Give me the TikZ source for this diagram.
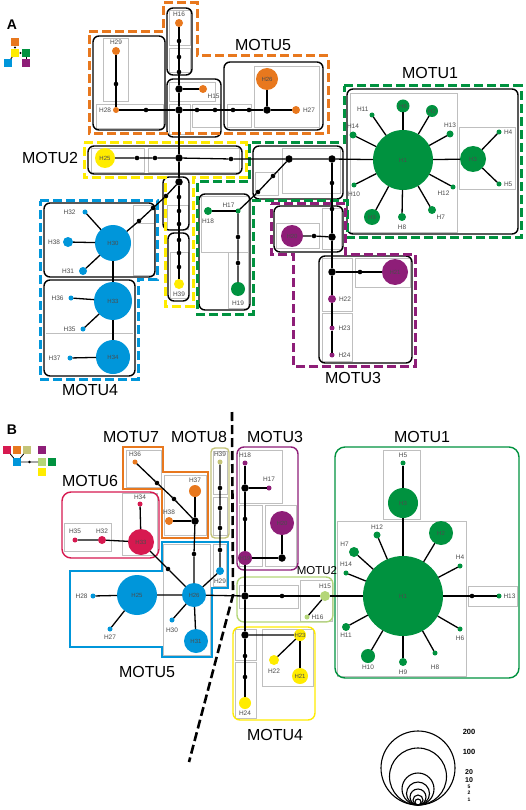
\documentclass[tikz,border=0pt]{standalone}
\usepackage{fontspec}
\setmainfont{Liberation Sans}
\usetikzlibrary{positioning}

\definecolor{motuorange}{RGB}{232,120,30}
\definecolor{motuyellow}{RGB}{255,236,0}
\definecolor{motugreen}{RGB}{0,146,63}
\definecolor{motublue}{RGB}{0,150,218}
\definecolor{motupurple}{RGB}{142,30,120}
\definecolor{motured}{RGB}{215,25,80}
\definecolor{motutan}{RGB}{196,196,120}
\definecolor{motulime}{RGB}{180,214,120}

\begin{document}
\begin{tikzpicture}[
    x=1pt, y=-1pt,
    every node/.style={inner sep=0pt, outer sep=0pt},
    hap/.style 2 args={circle, fill=#1, minimum size=#2pt, font=\fontsize{6}{6}\selectfont, text=black!70},
    jn/.style={circle, fill=black, minimum size=7.5pt},
    dt/.style={circle, fill=black, minimum size=4.6pt},
    lab/.style={font=\fontsize{6.5}{6.5}\selectfont, text=black!70, label distance=2.5pt},
    motu/.style={font=\fontsize{16}{16}\selectfont},
    sq/.style={fill=#1, minimum size=8pt},
    edge/.style={draw, line width=1.3pt},
    grp/.style={draw, line width=1.4pt, rounded corners=6pt},
    gbox/.style={draw=black!25, line width=0.6pt},
    dashgrp/.style={draw=#1, line width=3pt, dash pattern=on 9pt off 4pt},
    solgrp/.style={draw=#1, line width=1.4pt},
]
    \fill[white] (0,0) rectangle (526,810);
    \useasboundingbox (0,0) rectangle (526,810);

    %% ---------------- panel A ----------------
    \node[font=\fontsize{14}{14}\selectfont\bfseries] (tagA) at (12,25) {A};
    \node[sq=motuorange] (kAo) at (15,42) {};
    \node[sq=motuyellow] (kAy) at (15,53) {};
    \node[sq=motugreen] (kAg) at (26,53) {};
    \node[sq=motublue] (kAb) at (8,63) {};
    \node[sq=motupurple] (kAp) at (26,63) {};
    \draw[line width=0.8pt] (kAy) -- (kAb);
    \draw[line width=0.8pt] (kAg) -- (kAp);
    \fill (15,47.5) circle[radius=1.2] (20.5,53) circle[radius=1.2];

    % gray sub-boxes
    \draw[gbox] (103,38) rectangle (128,101);
    \draw[gbox] (96,104) rectangle (163,128);
    \draw[gbox] (169,10) rectangle (190,45);
    \draw[gbox] (169,48) rectangle (190,72);
    \draw[gbox] (169,82) rectangle (215,101);
    \draw[gbox] (169,104) rectangle (190,134);
    \draw[gbox] (192,104) rectangle (220,127);
    \draw[gbox] (227,104) rectangle (251,127);
    \draw[gbox] (254,66) rectangle (319,127);
    \draw[gbox] (91,148) rectangle (144,172);
    \draw[gbox] (148,148) rectangle (239,172);
    \draw[gbox] (167,205) rectangle (188,229);
    \draw[gbox] (170,252) rectangle (188,298);
    \draw[gbox] (255,172) rectangle (278,195);
    \draw[gbox] (282,148) rectangle (340,193);
    \draw[gbox] (350,93) rectangle (457,232);
    \draw[gbox] (459,127) rectangle (515,189);
    \draw[gbox] (201,196) rectangle (248,252);
    \draw[gbox] (228,252) rectangle (248,308);
    \draw[gbox] (276,223) rectangle (319,248);
    \draw[gbox] (322,208) rectangle (341,249);
    \draw[gbox] (355,258) rectangle (410,287);
    \draw[gbox] (322,258) rectangle (352,311);
    \draw[gbox] (322,313) rectangle (352,361);
    \draw[gbox] (133,205) rectangle (154,223);
    \draw[gbox] (133,223) rectangle (154,275);
    \draw[gbox] (46,333) -- (133,333);

    % haplotype group boxes
    \draw[grp] (93,36) rectangle (165,130);
    \draw[grp] (167,8) rectangle (192,75);
    \draw[grp] (167,79) rectangle (221,137);
    \draw[grp] (224,62) rectangle (323,130);
    \draw[grp] (88,146) rectangle (242,174);
    \draw[grp] (163,177) rectangle (189,230);
    \draw[grp] (168,233) rectangle (189,301);
    \draw[grp] (253,146) rectangle (343,199);
    \draw[grp] (347,89) rectangle (518,234);
    \draw[grp] (199,194) rectangle (250,310);
    \draw[grp] (274,206) rectangle (343,252);
    \draw[grp] (319,256) rectangle (412,363);
    \draw[grp] (44,203) rectangle (155,277);
    \draw[grp] (44,280) rectangle (135,376);

    % MOTU outlines
    \draw[dashgrp=motuorange] (89,32) -- (163,32) -- (163,3) -- (197,3) -- (197,56) -- (328,56) -- (328,134) -- (89,134) -- cycle;
    \draw[dashgrp=motuyellow] (84,143) -- (246,143) -- (246,178) -- (193,178) -- (193,306) -- (165,306) -- (165,178) -- (84,178) -- cycle;
    \draw[dashgrp=motugreen] (344,86) -- (521,86) -- (521,237) -- (347,237) -- (347,201) -- (253,201) -- (253,314) -- (197,314) -- (197,182) -- (249,182) -- (249,143) -- (344,143) -- cycle;
    \draw[dashgrp=motupurple] (271,204) -- (345,204) -- (345,254) -- (415,254) -- (415,366) -- (293,366) -- (293,254) -- (271,254) -- cycle;
    \draw[dashgrp=motublue] (40,201) -- (157,201) -- (157,279) -- (138,279) -- (138,379) -- (40,379) -- cycle;

    \node[motu] (tA5) at (263,45) {MOTU5};
    \node[motu] (tA1) at (430,73) {MOTU1};
    \node[motu] (tA2) at (50,158) {MOTU2};
    \node[motu] (tA4) at (90,390) {MOTU4};
    \node[motu] (tA3) at (353,378) {MOTU3};

    % MOTU5
    \node[hap={motuorange}{8}, label={[lab]above:H16}] (aH16) at (179,23) {};
    \node[dt] (ad1) at (179,41) {};
    \node[dt] (ad2) at (179,57) {};
    \node[dt] (ad3) at (179,72) {};
    \node[jn] (aj1) at (179,89) {};
    \node[hap={motuorange}{8}, label={[lab]below right:H15}] (aH15) at (203,89) {};
    \node[jn] (aj2) at (179,110) {};
    \node[hap={motuorange}{8}, label={[lab]above:H29}] (aH29) at (116,51) {};
    \node[dt] (ad4) at (116,84) {};
    \node[hap={motuorange}{6}, label={[lab,label distance=2pt]left:H28}] (aH28) at (116,110) {};
    \node[dt] (ad5) at (146,110) {};
    \node[dt] (ad6) at (197,110) {};
    \node[dt] (ad7) at (215,110) {};
    \node[dt] (ad8) at (233,110) {};
    \node[dt] (ad9) at (249,110) {};
    \node[jn] (aj3) at (267,110) {};
    \node[hap={motuorange}{22}] (aH26) at (267,79) {H26};
    \node[hap={motuorange}{8}, label={[lab,label distance=3pt]right:H27}] (aH27) at (296,110) {};

    % MOTU2
    \node[hap={motuyellow}{20}] (aH25) at (105,158) {H25};
    \node[dt] (ad10) at (137,158) {};
    \node[dt] (ad11) at (155,158) {};
    \node[jn] (aj4) at (179,158) {};
    \node[dt] (ad12) at (231,159) {};
    \node[jn] (aj5) at (289,159) {};
    \node[jn] (aj6) at (332,159) {};
    \node[jn] (aj7) at (179,182) {};
    \node[dt] (ad13) at (179,197) {};
    \node[dt] (ad14) at (179,211) {};
    \node[dt] (ad15) at (179,224) {};
    \node[dt] (ad16) at (179,240) {};
    \node[dt] (ad17) at (179,253) {};
    \node[dt] (ad18) at (179,267) {};
    \node[hap={motuyellow}{10}, label={[lab,label distance=3pt]below:H39}] (aH39) at (179,284) {};

    % MOTU4
    \node[dt] (ad19) at (166,196) {};
    \node[dt] (ad20) at (153,208) {};
    \node[dt] (ad21) at (139,221) {};
    \node[hap={motublue}{36}] (aH30) at (113,243) {H30};
    \node[hap={motublue}{5}, label={[lab,label distance=7pt]left:H32}] (aH32) at (85,212) {};
    \node[hap={motublue}{10}, label={[lab,label distance=3pt]left:H38}] (aH38) at (68,242) {};
    \node[hap={motublue}{8}, label={[lab,label distance=5pt]left:H31}] (aH31) at (83,271) {};
    \node[hap={motublue}{38}] (aH33) at (113,301) {H33};
    \node[hap={motublue}{5}, label={[lab,label distance=5pt]left:H36}] (aH36) at (71,298) {};
    \node[hap={motublue}{5}, label={[lab,label distance=5pt]left:H35}] (aH35) at (83,329) {};
    \node[hap={motublue}{34}] (aH34) at (113,357) {H34};
    \node[hap={motublue}{5}, label={[lab,label distance=7pt]left:H37}] (aH37) at (70,358) {};

    % MOTU1
    \node[dt] (ad22) at (273,176) {};
    \node[dt] (ad23) at (258,192) {};
    \node[hap={motugreen}{5}, label={[lab]above left:H17}] (aH17) at (238,211) {};
    \node[hap={motugreen}{8}, label={[lab,label distance=4pt]below:H18}] (aH18) at (208,211) {};
    \node[dt] (ad24) at (238,237) {};
    \node[dt] (ad25) at (238,263) {};
    \node[hap={motugreen}{14}, label={[lab,label distance=5pt]below:H19}] (aH19) at (238,289) {};
    \node[hap={motugreen}{60}] (aH1) at (403,160) {H1};
    \node[hap={motugreen}{26}] (aH3) at (473,159) {H3};
    \node[hap={motugreen}{5}, label={[lab]right:H4}] (aH4) at (499,132) {};
    \node[hap={motugreen}{5}, label={[lab]right:H5}] (aH5) at (499,184) {};
    \node[hap={motugreen}{13}] (aH6) at (403,106) {H6};
    \node[hap={motugreen}{12}] (aH2) at (432,111) {H2};
    \node[hap={motugreen}{5}, label={[lab]above left:H11}] (aH11) at (372,115) {};
    \node[hap={motugreen}{7}, label={[lab]above:H14}] (aH14) at (353,135) {};
    \node[hap={motugreen}{7}, label={[lab]above:H13}] (aH13) at (450,134) {};
    \node[hap={motugreen}{5}, label={[lab,label distance=4pt]below:H10}] (aH10) at (354,185) {};
    \node[hap={motugreen}{16}] (aH9) at (372,217) {H9};
    \node[hap={motugreen}{8}, label={[lab,label distance=4pt]below:H8}] (aH8) at (402,217) {};
    \node[hap={motugreen}{8}, label={[lab]below right:H7}] (aH7) at (432,210) {};
    \node[hap={motugreen}{5}, label={[lab]below left:H12}] (aH12) at (453,187) {};

    % MOTU3
    \node[dt] (ad26) at (332,183) {};
    \node[dt] (ad27) at (332,209) {};
    \node[jn] (aj8) at (332,237) {};
    \node[dt] (ad28) at (314,236) {};
    \node[hap={motupurple}{22}] (aH20) at (292,236) {H20};
    \node[jn] (aj9) at (332,272) {};
    \node[dt] (ad29) at (360,272) {};
    \node[hap={motupurple}{26}] (aH21) at (395,272) {H21};
    \node[hap={motupurple}{8}, label={[lab,label distance=3pt]right:H22}] (aH22) at (332,299) {};
    \node[hap={motupurple}{5}, label={[lab,label distance=4pt]right:H23}] (aH23) at (332,328) {};
    \node[hap={motupurple}{5}, label={[lab,label distance=4pt]right:H24}] (aH24) at (332,355) {};

    % connections A
    \draw[edge] (aH16) -- (ad1) -- (ad2) -- (ad3) -- (aj1) -- (aj2) -- (aj4) -- (aj7) -- (ad13) -- (ad14) -- (ad15) -- (ad16) -- (ad17) -- (ad18) -- (aH39);
    \draw[edge] (aj1) -- (aH15);
    \draw[edge] (aH29) -- (ad4) -- (aH28) -- (ad5) -- (aj2) -- (ad6) -- (ad7) -- (ad8) -- (ad9) -- (aj3) -- (aH27);
    \draw[edge] (aj3) -- (aH26);
    \draw[edge] (aH25) -- (ad10) -- (ad11) -- (aj4) -- (ad12) -- (aj5) -- (aj6) -- (aH1);
    \draw[edge] (aj7) -- (ad19) -- (ad20) -- (ad21) -- (aH30);
    \foreach \s in {aH32,aH38,aH31,aH33} \draw[edge] (aH30) -- (\s);
    \foreach \s in {aH36,aH35,aH34} \draw[edge] (aH33) -- (\s);
    \draw[edge] (aH34) -- (aH37);
    \draw[edge] (aj5) -- (ad22) -- (ad23) -- (aH17) -- (ad24) -- (ad25) -- (aH19);
    \draw[edge] (aH17) -- (aH18);
    \foreach \s in {aH3,aH6,aH2,aH11,aH14,aH13,aH10,aH9,aH8,aH7,aH12} \draw[edge] (aH1) -- (\s);
    \draw[edge] (aH3) -- (aH4);
    \draw[edge] (aH3) -- (aH5);
    \draw[edge] (aj6) -- (ad26) -- (ad27) -- (aj8) -- (aj9) -- (aH22) -- (aH23) -- (aH24);
    \draw[edge] (aj8) -- (ad28) -- (aH20);
    \draw[edge] (aj9) -- (ad29) -- (aH21);

    %% ---------------- panel B ----------------
    \node[font=\fontsize{14}{14}\selectfont\bfseries] (tagB) at (12,430) {B};
    \node[sq=motured] (kBr) at (7,450) {};
    \node[sq=motuorange] (kBo) at (17,450) {};
    \node[sq=motutan] (kBt) at (27,450) {};
    \node[sq=motupurple] (kBp) at (42,450) {};
    \node[sq=motublue] (kBb) at (17,462) {};
    \node[sq=motulime] (kBl) at (42,462) {};
    \node[sq=motugreen] (kBg) at (52,462) {};
    \node[sq=motuyellow] (kBy) at (42,472) {};
    \draw[line width=0.8pt] (kBr) -- (kBb) (kBt) -- (kBb) (kBb) -- (kBl);
    \fill (29.5,462) circle[radius=1.3];

    % divider
    \coordinate (cutT) at (232,412);
    \coordinate (cutM) at (233,595);
    \coordinate (cutB) at (189,762);
    \draw[line width=2.6pt, dash pattern=on 9pt off 4pt] (cutT) -- (cutM) -- (cutB);

    % gray sub-boxes
    \draw[gbox] (126,450) rectangle (161,487);
    \draw[gbox] (164,475) rectangle (206,535);
    \draw[gbox] (213,451) rectangle (227,494);
    \draw[gbox] (213,497) rectangle (227,535);
    \draw[gbox] (122,493) rectangle (157,555);
    \draw[gbox] (64,523) rectangle (111,551);
    \draw[gbox] (163,544) rectangle (210,655);
    \draw[gbox] (213,544) rectangle (226,586);
    \draw[gbox] (239,450) rectangle (282,503);
    \draw[gbox] (239,505) rectangle (262,566);
    \draw[gbox] (265,505) rectangle (296,566);
    \draw[gbox] (239,585) rectangle (298,608);
    \draw[gbox] (300,580) rectangle (332,621);
    \draw[gbox] (235,629) rectangle (256,660);
    \draw[gbox] (235,662) rectangle (256,718);
    \draw[gbox] (262,629) rectangle (313,686);
    \draw[gbox] (383,450) rectangle (420,519);
    \draw[gbox] (337,521) rectangle (466,676);
    \draw[gbox] (468,586) rectangle (517,606);

    % MOTU outlines
    \draw[solgrp=motuorange] (123,447) -- (163,447) -- (163,472) -- (208,472) -- (208,538) -- (162,538) -- (162,489) -- (123,489) -- cycle;
    \draw[solgrp=motutan, rounded corners=4pt] (211,448) rectangle (229,538);
    \draw[solgrp=motured, rounded corners=9pt] (62,492) rectangle (159,558);
    \draw[solgrp=motublue] (70,571) -- (162,571) -- (162,542) -- (228,542) -- (228,588) -- (212,588) -- (212,657) -- (162,657) -- (162,647) -- (70,647) -- cycle;
    \draw[solgrp=motupurple, rounded corners=7pt] (237,447) rectangle (298,570);
    \draw[solgrp=motulime, rounded corners=7pt] (237,577) rectangle (333,622);
    \draw[solgrp=motuyellow, rounded corners=7pt] (233,627) rectangle (315,720);
    \draw[solgrp=motugreen, rounded corners=10pt] (335,447) rectangle (519,678);

    \node[motu] (tB7) at (131,437) {MOTU7};
    \node[motu] (tB8) at (199,437) {MOTU8};
    \node[motu] (tB6) at (90,481) {MOTU6};
    \node[motu] (tB3) at (275,437) {MOTU3};
    \node[motu] (tB1) at (422,437) {MOTU1};
    \node[font=\fontsize{11.5}{12}\selectfont] (tB2) at (317,571) {MOTU2};
    \node[motu] (tB5) at (147,672) {MOTU5};
    \node[motu] (tB4) at (275,735) {MOTU4};

    % MOTU7 / MOTU8
    \node[hap={motuorange}{5}, label={[lab]above:H36}] (bH36) at (135,462) {};
    \node[dt] (bd1) at (157,483) {};
    \node[dt] (bd2) at (174,499) {};
    \node[jn] (bj1) at (195,521) {};
    \node[hap={motuorange}{12}, label={[lab,label distance=2pt]above:H37}] (bH37) at (195,491) {};
    \node[hap={motuorange}{8}, label={[lab,label distance=2pt]above:H38}] (bH38) at (169,521) {};
    \node[hap={motutan}{5}, label={[lab]above:H39}] (bH39) at (220,462) {};
    \node[dt] (bd4) at (220,488) {};
    \node[dt] (bd5) at (220,508) {};
    \node[dt] (bd6) at (220,528) {};
    \node[dt] (bd7) at (220,550) {};

    % MOTU6
    \node[hap={motured}{26}] (bH33) at (141,542) {H33};
    \node[hap={motured}{5}, label={[lab,label distance=2pt]above:H34}] (bH34) at (140,504) {};
    \node[hap={motured}{8}, label={[lab,label distance=2pt]above:H32}] (bH32) at (102,540) {};
    \node[hap={motured}{5}, label={[lab,label distance=4pt]above:H35}] (bH35) at (75,540) {};
    \node[dt] (bd8) at (168,569) {};

    % MOTU5
    \node[dt] (bd3) at (194,554) {};
    \node[hap={motublue}{24}] (bH26) at (194,595) {H26};
    \node[hap={motublue}{8}, label={[lab,label distance=4pt]below:H29}] (bH29) at (220,571) {};
    \node[hap={motublue}{40}] (bH25) at (137,595) {H25};
    \node[hap={motublue}{5}, label={[lab,label distance=3pt]left:H28}] (bH28) at (93,596) {};
    \node[hap={motublue}{5}, label={[lab,label distance=3pt]below:H27}] (bH27) at (110,629) {};
    \node[hap={motublue}{5}, label={[lab,label distance=5pt]below:H30}] (bH30) at (172,620) {};
    \node[hap={motublue}{24}] (bH31) at (196,641) {H31};

    % MOTU3
    \node[hap={motupurple}{5}, label={[lab]above:H18}] (bH18) at (245,463) {};
    \node[jn] (bj3) at (245,488) {};
    \node[hap={motupurple}{5}, label={[lab,label distance=4pt]above:H17}] (bH17) at (269,488) {};
    \node[dt] (bd9) at (245,519) {};
    \node[hap={motupurple}{14}] (bH19) at (245,558) {H19};
    \node[jn] (bj4) at (282,558) {};
    \node[hap={motupurple}{24}] (bH20) at (282,523) {H20};

    % MOTU2
    \node[jn] (bj2) at (245,596) {};
    \node[dt] (bd10) at (282,596) {};
    \node[hap={motulime}{10}, label={[lab,label distance=2pt]above:H15}] (bH15) at (325,596) {};
    \node[hap={motulime}{5}, label={[lab,label distance=2pt]right:H16}] (bH16) at (307,617) {};

    % MOTU4
    \node[jn] (bj5) at (245,635) {};
    \node[hap={motuyellow}{12}] (bH23) at (300,635) {H23};
    \node[hap={motuyellow}{10}, label={[lab,label distance=4pt]below:H22}] (bH22) at (274,660) {};
    \node[hap={motuyellow}{16}] (bH21) at (300,676) {H21};
    \node[dt] (bd11) at (245,656) {};
    \node[dt] (bd12) at (245,677) {};
    \node[hap={motuyellow}{12}, label={[lab,label distance=2pt]below:H24}] (bH24) at (245,703) {};

    % MOTU1
    \node[hap={motugreen}{80}] (bH1) at (403,596) {H1};
    \node[hap={motugreen}{30}] (bH3) at (403,503) {H3};
    \node[hap={motugreen}{5}, label={[lab]above:H5}] (bH5) at (403,463) {};
    \node[hap={motugreen}{24}] (bH2) at (441,533) {H2};
    \node[hap={motugreen}{7}, label={[lab]above:H12}] (bH12) at (377,535) {};
    \node[hap={motugreen}{10}, label={[lab]above left:H7}] (bH7) at (354,552) {};
    \node[hap={motugreen}{5}, label={[lab,label distance=4pt]above:H14}] (bH14) at (346,573) {};
    \node[hap={motugreen}{5}, label={[lab,label distance=4pt]above:H4}] (bH4) at (460,566) {};
    \node[dt] (bd13) at (472,596) {};
    \node[hap={motugreen}{5}, label={[lab,label distance=2pt]right:H13}] (bH13) at (499,596) {};
    \node[hap={motugreen}{5}, label={[lab,label distance=4pt]below:H6}] (bH6) at (460,629) {};
    \node[hap={motugreen}{5}, label={[lab,label distance=9pt]below:H8}] (bH8) at (435,653) {};
    \node[hap={motugreen}{8}, label={[lab,label distance=4pt]below:H9}] (bH9) at (403,662) {};
    \node[hap={motugreen}{14}, label={[lab,label distance=2pt]below:H10}] (bH10) at (368,656) {};
    \node[hap={motugreen}{8}, label={[lab,label distance=2pt]below:H11}] (bH11) at (346,627) {};

    % connections B
    \draw[edge] (bH36) -- (bd1) -- (bd2) -- (bj1) -- (bd3) -- (bH26);
    \draw[edge] (bH37) -- (bj1);
    \draw[edge] (bH38) -- (bj1);
    \draw[edge] (bH39) -- (bd4) -- (bd5) -- (bd6) -- (bd7) -- (bH29) -- (bH26);
    \draw[edge] (bH35) -- (bH32) -- (bH33) -- (bd8) -- (bH26);
    \draw[edge] (bH34) -- (bH33);
    \draw[edge] (bH28) -- (bH25) -- (bH26) -- (bj2);
    \draw[edge] (bH27) -- (bH25);
    \draw[edge] (bH26) -- (bH30);
    \draw[edge] (bH26) -- (bH31);
    \draw[edge] (bH18) -- (bj3) -- (bd9) -- (bH19) -- (bj2);
    \draw[edge] (bj3) -- (bH17);
    \draw[edge] (bH19) -- (bj4) -- (bH20);
    \draw[edge] (bj2) -- (bd10) -- (bH15) -- (bH1);
    \draw[edge] (bH15) -- (bH16);
    \draw[edge] (bj2) -- (bj5) -- (bd11) -- (bd12) -- (bH24);
    \draw[edge] (bj5) -- (bH23) -- (bH22);
    \draw[edge] (bH23) -- (bH21);
    \draw[edge] (bH3) -- (bH5);
    \foreach \s in {bH3,bH2,bH12,bH7,bH14,bH4,bH6,bH8,bH9,bH10,bH11} \draw[edge] (bH1) -- (\s);
    \draw[edge] (bH1) -- (bd13) -- (bH13);

    % size legend
    \foreach \r/\v/\yy/\fs in {37/200/732/7.5, 28.5/100/752/7.5, 16/20/772/7, 11.5/10/780/7, 8/5/787/5, 5/2/793/5, 3/1/800/5} {
        \draw[line width=1.1pt] (418,{805-\r}) circle[radius=\r];
        \node[font=\fontsize{\fs}{\fs}\selectfont\bfseries] (sz\v) at (469,\yy) {\v};
    }
\end{tikzpicture}
\end{document}
